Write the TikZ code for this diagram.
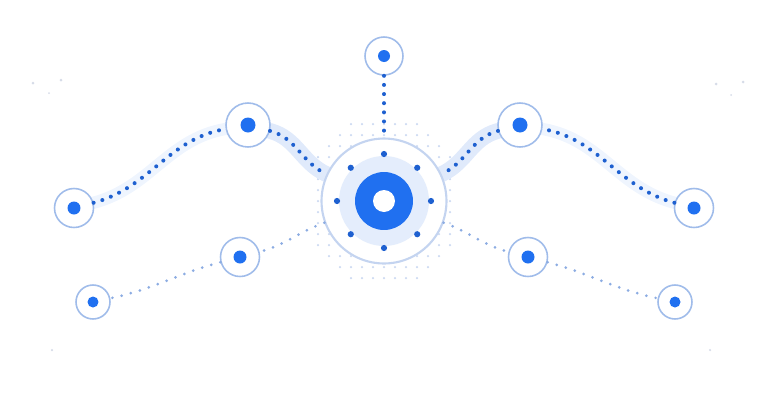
\documentclass[tikz,border=0pt]{standalone}
\usetikzlibrary{backgrounds}

\definecolor{nodeblue}{RGB}{32,112,240}
\definecolor{dotblue}{RGB}{30,96,208}
\definecolor{ringblue}{RGB}{160,188,234}
\definecolor{hubring}{RGB}{196,212,240}
\definecolor{paleblue}{RGB}{228,237,252}
\definecolor{bandblue}{RGB}{224,234,251}
\definecolor{bandfaint}{RGB}{239,245,254}
\definecolor{faintblue}{RGB}{140,172,226}
\definecolor{griddot}{RGB}{204,218,242}
\definecolor{specks}{RGB}{214,220,232}

\tikzset{
	sat/.style={circle, draw=ringblue, fill=white, line width=0.9pt, inner sep=0pt, minimum size=#1},
	hubnode/.style={circle, draw=hubring, fill=white, line width=1.2pt, inner sep=0pt, minimum size=2.5cm},
	dotline/.style={draw=dotblue, line width=2.3pt, line cap=round, dash pattern=on 0pt off 5.2pt},
	faintline/.style={draw=faintblue, line width=1.7pt, line cap=round, dash pattern=on 0pt off 5.4pt},
	band/.style={draw=bandblue, line width=9pt, line cap=round},
	softband/.style={draw=bandfaint, line width=7pt, line cap=round}
}

\begin{document}
\begin{tikzpicture}[x=0.02cm, y=-0.02cm]
	\useasboundingbox (0,0) rectangle (768,403);

	\node[hubnode] (hub) at (384,201) {};
	\fill[paleblue] (hub) circle (0.9cm);
	\fill[nodeblue] (hub) circle (0.58cm);
	\fill[white] (hub) circle (0.22cm);
	\foreach \a in {0,45,...,315}
		\fill[dotblue] ([shift={(\a:0.94cm)}]hub.center) circle (0.062cm);

	\node[sat=0.76cm] (top) at (384,56) {};
	\node[sat=0.88cm] (ul) at (248,125) {};
	\node[sat=0.88cm] (ur) at (520,125) {};
	\node[sat=0.78cm] (fl) at (74,208) {};
	\node[sat=0.78cm] (fr) at (694,208) {};
	\node[sat=0.78cm] (lm) at (240,257) {};
	\node[sat=0.78cm] (rm) at (528,257) {};
	\node[sat=0.68cm] (lfl) at (93,302) {};
	\node[sat=0.68cm] (rfl) at (675,302) {};

	\fill[nodeblue] (top) circle (0.12cm);
	\fill[nodeblue] (ul) circle (0.15cm);
	\fill[nodeblue] (ur) circle (0.15cm);
	\fill[nodeblue] (fl) circle (0.13cm);
	\fill[nodeblue] (fr) circle (0.13cm);
	\fill[nodeblue] (lm) circle (0.13cm);
	\fill[nodeblue] (rm) circle (0.13cm);
	\fill[nodeblue] (lfl) circle (0.11cm);
	\fill[nodeblue] (rfl) circle (0.11cm);

	\begin{scope}[on background layer]
		\foreach \i in {-6,...,6}
			\foreach \j in {-7,...,7} {
				\pgfmathtruncatemacro\inside{(\i*11)^2+(\j*11)^2<=7225 ? 1 : 0}
				\ifnum\inside=1 \fill[griddot] (384+\i*11,201+\j*11) circle (0.025cm); \fi
			}
		\draw[softband] (fl) to[out=15,in=190] (ul);
		\draw[softband] (fr) to[out=165,in=-10] (ur);
		\draw[band] (ul) to[out=-15,in=155] (hub);
		\draw[band] (ur) to[out=195,in=25] (hub);
	\end{scope}

	\draw[dotline] (top) -- (hub);
	\draw[dotline] (fl) to[out=15,in=190] (ul);
	\draw[dotline] (ul) to[out=-15,in=155] (hub);
	\draw[dotline] (fr) to[out=165,in=-10] (ur);
	\draw[dotline] (ur) to[out=195,in=25] (hub);

	\draw[faintline] (hub) to[out=200,in=15] (lm);
	\draw[faintline] (lm) to[out=195,in=12] (lfl);
	\draw[faintline] (hub) to[out=-20,in=165] (rm);
	\draw[faintline] (rm) to[out=-15,in=168] (rfl);

	\fill[specks] (33,83) circle (0.03cm);
	\fill[specks] (61,80) circle (0.03cm);
	\fill[specks] (49,93) circle (0.02cm);
	\fill[specks] (716,84) circle (0.03cm);
	\fill[specks] (743,82) circle (0.03cm);
	\fill[specks] (731,95) circle (0.02cm);
	\fill[specks] (52,350) circle (0.025cm);
	\fill[specks] (710,350) circle (0.025cm);
\end{tikzpicture}
\end{document}
